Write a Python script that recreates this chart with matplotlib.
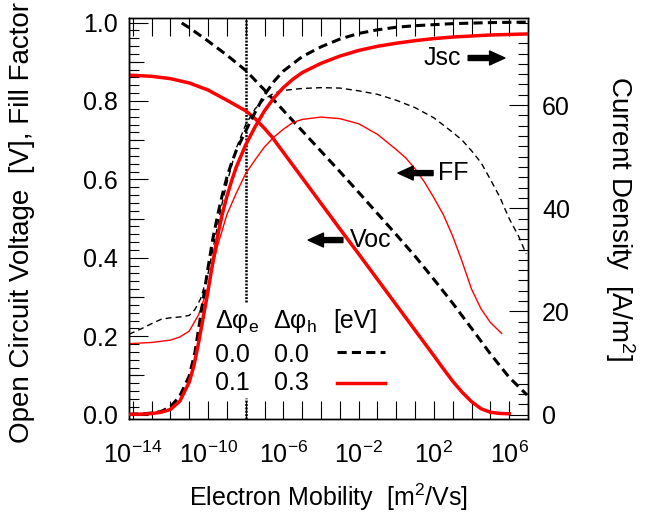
import matplotlib
matplotlib.use("Agg")
import matplotlib.pyplot as plt
from matplotlib.ticker import FixedLocator, FuncFormatter, MultipleLocator, NullLocator
import numpy as np

plt.rcParams['font.family'] = ['Liberation Sans', 'DejaVu Sans']
plt.rcParams['mathtext.fontset'] = 'custom'
plt.rcParams['mathtext.rm'] = 'Liberation Sans'
plt.rcParams['mathtext.it'] = 'Liberation Sans:italic'
plt.rcParams['font.size'] = 18

# log10 of electron mobility [m2/Vs]
voc_ref_exp = [-11.4, -11, -10, -9, -8, -7, -6, -5, -4, -3, -2, -1, 0, 1, 2, 3, 4, 5, 6, 6.95]
voc_ref = [0.999, 0.987, 0.953, 0.917, 0.878, 0.828, 0.776, 0.724, 0.672, 0.62, 0.567, 0.513,
           0.459, 0.404, 0.345, 0.284, 0.22, 0.155, 0.095, 0.05]

voc_off_exp = [-14.2, -13, -12, -11, -10, -9, -8, -7.5, -7, -6.6, -6, -5, -4, -3, -2, -1, 0, 1, 2,
               2.5, 3, 3.5, 4, 4.5, 5, 5.5, 6]
voc_off = [0.866, 0.863, 0.857, 0.846, 0.828, 0.802, 0.775, 0.755, 0.73, 0.708, 0.669, 0.604,
           0.539, 0.474, 0.41, 0.345, 0.28, 0.215, 0.15, 0.117, 0.085, 0.057, 0.033, 0.015,
           0.006, 0.003, 0.002]

jsc_ref_exp = [-14.2, -13.5, -13, -12.5, -12, -11.5, -11, -10.7, -10.4, -10, -9.75, -9.5, -9.25,
               -9, -8.75, -8.5, -8, -7.5, -7, -6.5, -6, -5, -4, -3, -2, -1, 0, 1, 2, 3, 4, 5, 7]
jsc_ref = [0.05, 0.15, 0.3, 0.6, 1.5, 3.6, 7.5, 12, 19, 28.5, 34, 38.5, 42.5, 46, 48.8, 51.2, 55,
           58.6, 62, 64.6, 66.6, 69.4, 71.3, 72.8, 73.9, 74.6, 75.1, 75.4, 75.6, 75.8, 75.9, 76,
           76.1]

jsc_off_exp = [-14.2, -13.5, -13, -12.5, -12, -11.5, -11, -10.75, -10.5, -10.25, -10, -9.75, -9.5,
               -9.25, -9, -8.75, -8.5, -8, -7.5, -7, -6.5, -6, -5.5, -5, -4, -3, -2, -1, 0, 1, 2,
               3, 4, 5, 6, 7]
jsc_off = [0.05, 0.1, 0.2, 0.45, 1.0, 2.6, 6.3, 9.5, 14, 19, 24, 29.5, 34.5, 38.8, 42.3, 45.3,
           48, 52.3, 55.8, 58.9, 61.4, 63.4, 65, 66.3, 68.1, 69.5, 70.6, 71.4, 72, 72.5, 72.9,
           73.2, 73.4, 73.6, 73.7, 73.8]

ff_ref_exp = [-14.2, -13.5, -13, -12.5, -12, -11.5, -11, -10.7, -10.4, -10, -9.75, -9.5, -9.25,
              -9, -8.5, -8, -7.5, -7, -6.5, -6, -5, -4, -3, -2, -1, 0, 1, 2, 3, 3.5, 4, 4.5, 5,
              5.5, 6, 6.5, 6.9]
ff_ref = [0.205, 0.22, 0.232, 0.243, 0.247, 0.249, 0.253, 0.268, 0.295, 0.36, 0.42, 0.48, 0.54,
          0.59, 0.68, 0.74, 0.78, 0.805, 0.82, 0.827, 0.832, 0.834, 0.833, 0.826, 0.817, 0.802,
          0.783, 0.757, 0.72, 0.7, 0.673, 0.643, 0.6, 0.555, 0.5, 0.455, 0.41]

ff_off_exp = [-14.2, -13, -12, -11.5, -11, -10.5, -10, -9.5, -9, -8.5, -8, -7.5, -7, -6.5, -6,
              -5.5, -5, -4, -3, -2, -1, 0, 0.5, 1, 1.5, 2, 2.5, 3, 3.5, 4, 4.5, 5, 5.6]
ff_off = [0.181, 0.184, 0.19, 0.198, 0.213, 0.255, 0.325, 0.43, 0.51, 0.565, 0.615, 0.65, 0.683,
          0.708, 0.728, 0.745, 0.753, 0.759, 0.755, 0.742, 0.715, 0.676, 0.655, 0.627, 0.593,
          0.553, 0.51, 0.455, 0.39, 0.32, 0.27, 0.235, 0.207]

ref_mobility = 1e-8
legend_rows = [("0.0", "0.0"), ("0.1", "0.3")]

red = '#ff0000'


def mob(exps):
    return 10.0 ** np.asarray(exps)


fig = plt.figure(figsize=(6.47, 5.24), dpi=100)
ax = fig.add_axes([0.1994, 0.1998, 0.6167, 0.7653])
ax2 = ax.twinx()

# reference mobility line, broken behind the legend block
ax.axvline(ref_mobility, 0, 0.053, color='k', lw=1.8, dashes=(0.8, 0.55), zorder=1)
ax.axvline(ref_mobility, 0.293, 1, color='k', lw=1.8, dashes=(0.8, 0.55), zorder=1)

ax.plot(mob(voc_ref_exp), voc_ref, color='k', lw=2.2, dashes=(3, 1.7), zorder=3)
ax.plot(mob(voc_off_exp), voc_off, color=red, lw=2.5, zorder=3)
ax.plot(mob(ff_ref_exp), ff_ref, color='k', lw=1.0, dashes=(4.3, 2.9), zorder=3)
ax.plot(mob(ff_off_exp), ff_off, color=red, lw=1.0, zorder=3)
ax2.plot(mob(jsc_ref_exp), jsc_ref, color='k', lw=2.2, dashes=(3, 1.7), zorder=3)
ax2.plot(mob(jsc_off_exp), jsc_off, color=red, lw=2.5, zorder=3)

ax.set_xscale('log')
ax.set_xlim(10 ** -14.2, 1e7)
ax.set_ylim(-0.012, 1.011)
ax2.set_ylim(-0.012 * 76, 1.011 * 76)

ax.xaxis.set_major_locator(FixedLocator([10.0 ** e for e in range(-14, 8)]))
ax.xaxis.set_minor_locator(NullLocator())


def xfmt(v, pos):
    e = int(round(np.log10(v)))
    if (e + 14) % 4:
        return ''
    return r'$\mathregular{10^{%d}}$' % e


ax.xaxis.set_major_formatter(FuncFormatter(xfmt))
ax.yaxis.set_major_locator(MultipleLocator(0.2))
ax.yaxis.set_minor_locator(MultipleLocator(0.02))
ax.yaxis.set_major_formatter(FuncFormatter(lambda v, p: '%.1f' % v))
ax2.yaxis.set_major_locator(MultipleLocator(20))
ax2.yaxis.set_minor_locator(MultipleLocator(2))

ax.tick_params(axis='x', which='major', direction='in', length=13, width=0.8, top=True, pad=16)
ax.tick_params(axis='y', which='major', direction='in', length=13.5, width=0.8, right=False, pad=8)
ax.tick_params(axis='y', which='minor', direction='in', length=7, width=0.8, right=False)
ax2.tick_params(axis='y', which='major', direction='in', length=13.5, width=0.8, pad=10)
ax2.tick_params(axis='y', which='minor', direction='in', length=7, width=0.8)

sec = ax.secondary_yaxis('left')
sec.set_yticks([0.1, 0.3, 0.5, 0.7, 0.9])
sec.yaxis.set_minor_locator(NullLocator())
sec.tick_params(axis='y', direction='in', length=11, width=0.8, labelleft=False)

for a in (ax, ax2):
    for s in a.spines.values():
        s.set_linewidth(1.0)

ax.set_xlabel(r'Electron Mobility  [m$^\mathregular{2}$/Vs]')
ax.xaxis.set_label_coords(0.5, -0.155)
ax.set_ylabel('Open Circuit Voltage  [V], Fill Factor', fontsize=20, va='center')
ax.yaxis.set_label_coords(-0.268, 0.49)
ax2.set_ylabel(r'Current Density  [A/m$^\mathregular{2}$]', fontsize=20, rotation=270,
               va='center', ha='center')
ax2.yaxis.set_label_coords(1.23, 0.5)

# curve labels with arrows
arrow = dict(arrowstyle='simple,head_length=0.55,head_width=0.5,tail_width=0.18',
             color='k', shrinkA=0, shrinkB=0, mutation_scale=20)
ax.text(0.737, 0.901, 'Jsc', transform=ax.transAxes, va='center', ha='left')
ax.annotate('', xy=(0.942, 0.901), xytext=(0.850, 0.901), xycoords='axes fraction', arrowprops=arrow)
ax.text(0.774, 0.614, 'FF', transform=ax.transAxes, va='center', ha='left')
ax.annotate('', xy=(0.674, 0.614), xytext=(0.762, 0.614), xycoords='axes fraction', arrowprops=arrow)
ax.text(0.554, 0.447, 'Voc', transform=ax.transAxes, va='center', ha='left')
ax.annotate('', xy=(0.449, 0.447), xytext=(0.536, 0.447), xycoords='axes fraction', arrowprops=arrow)

# legend block
ax.text(0.216, 0.228, r'Δφ$_\mathregular{e}$', transform=ax.transAxes, va='baseline')
ax.text(0.361, 0.228, r'Δφ$_\mathregular{h}$', transform=ax.transAxes, va='baseline')
ax.text(0.511, 0.228, '[eV]', transform=ax.transAxes, va='baseline')
row_y = [0.143, 0.073]
line_y = [0.168, 0.091]
styles = [dict(color='k', lw=2.2, dashes=(3, 1.7)), dict(color=red, lw=2.5)]
for (de, dh), ty, ly, st in zip(legend_rows, row_y, line_y, styles):
    ax.text(0.216, ty, de, transform=ax.transAxes, va='baseline')
    ax.text(0.363, ty, dh, transform=ax.transAxes, va='baseline')
    ax.plot([0.521, 0.642], [ly, ly], transform=ax.transAxes, **st)

fig.savefig('out.png', dpi=100)
